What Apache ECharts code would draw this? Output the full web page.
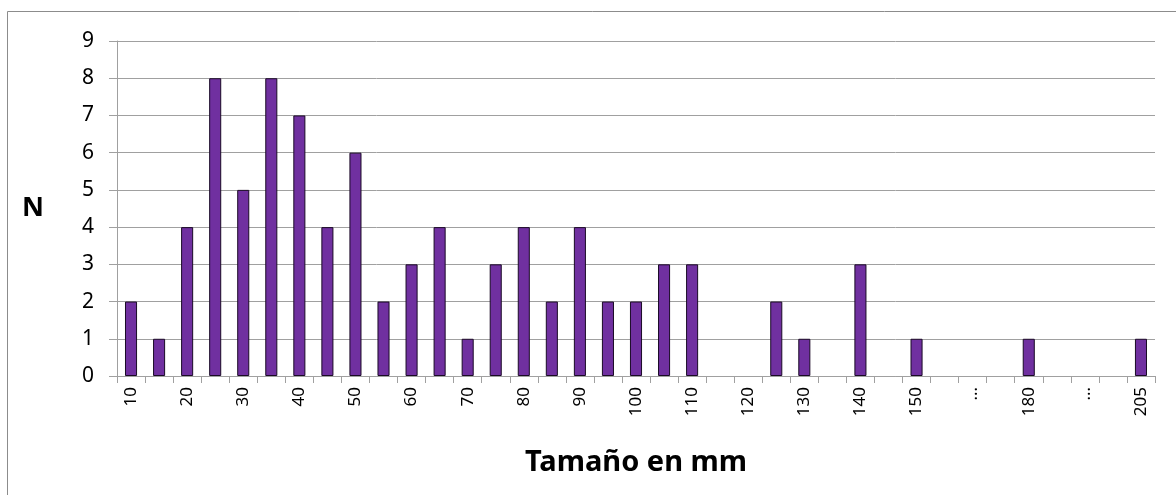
<!DOCTYPE html>
<html><head><meta charset="utf-8">
<script src="https://cdn.jsdelivr.net/npm/echarts@6/dist/echarts.min.js"></script>
<style>html,body{margin:0;padding:0;background:#fff}#c{width:1176px;height:495px}</style>
</head><body><div id="c"></div>
<script>
const categories = ["10","15","20","25","30","35","40","45","50","55","60","65","70","75","80","85","90","95","100","105","110","115","120","125","130","135","140","145","150","155","…","","180","","…","","205"];
const counts = [2,1,4,8,5,8,7,4,6,2,3,4,1,3,4,2,4,2,2,3,3,0,0,2,1,0,3,0,1,0,0,0,1,0,0,0,1];
const yTicks = [0,9,1];
const xTitle = "Tamaño en mm";
const yTitle = "N";

const chart = echarts.init(document.getElementById('c'));
const font = "Noto Sans";
const barData = counts.map(v => v === 0 ? {value:v, itemStyle:{borderWidth:0, color:'rgba(0,0,0,0)'}} : v);
chart.setOption({
  animation:false,
  backgroundColor:'#fff',
  grid:{left:117,right:21,top:41,bottom:119},
  graphic:[{type:'rect',shape:{x:7.5,y:11.5,width:1300,height:700},style:{fill:null,stroke:'#8c8c8c',lineWidth:1},silent:true,z:-1}],
  xAxis:{
    type:'category', data:categories, boundaryGap:true,
    axisLine:{lineStyle:{color:'#a0a0a0'}},
    axisTick:{show:true, interval:0, length:7, lineStyle:{color:'#a0a0a0'}},
    axisLabel:{interval:1, rotate:90, fontSize:17, color:'#000', fontFamily:font, margin:11},
    name:xTitle, nameLocation:'middle', nameGap:72,
    nameTextStyle:{fontSize:29, fontWeight:'bold', color:'#000', fontFamily:font}
  },
  yAxis:{
    type:'value', min:yTicks[0], max:yTicks[1], interval:yTicks[2],
    axisLine:{show:true, lineStyle:{color:'#a0a0a0'}},
    axisTick:{show:true, length:8, lineStyle:{color:'#a0a0a0'}},
    splitLine:{lineStyle:{color:'#a0a0a0'}},
    axisLabel:{fontSize:21, color:'#000', fontFamily:font, margin:23},
    name:yTitle, nameLocation:'middle', nameRotate:0, nameGap:73,
    nameTextStyle:{fontSize:27, fontWeight:'bold', color:'#000', fontFamily:font}
  },
  series:[{
    type:'bar', data:barData, barWidth:'43%',
    itemStyle:{color:'#7030A0', borderColor:'#1a0a26', borderWidth:1}
  }]
});
</script></body></html>
